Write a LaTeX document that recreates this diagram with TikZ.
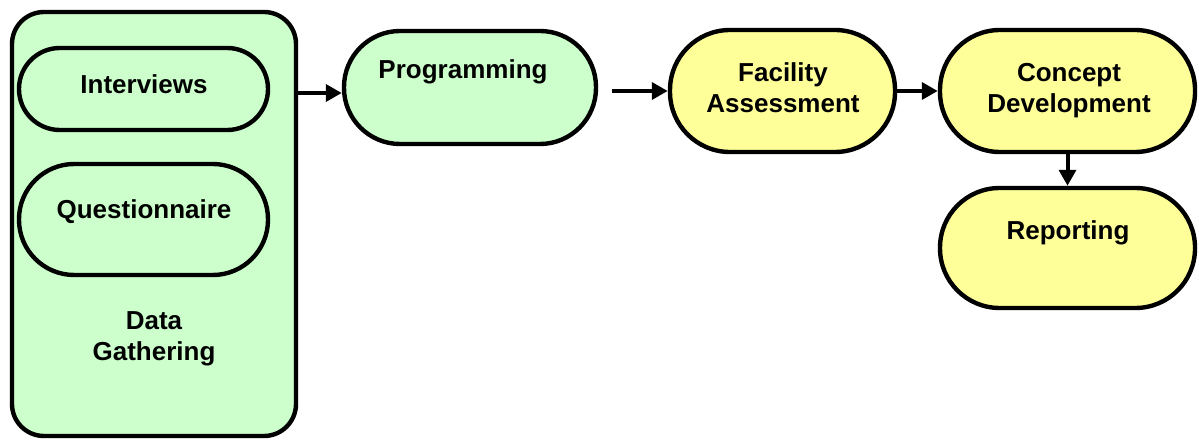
\documentclass[tikz,border=0pt]{standalone}
\usepackage{fontspec}
\setmainfont{Liberation Sans}
\usepackage{xcolor}
\usepackage{tikz}
\usetikzlibrary{shapes, arrows.meta, positioning}

\definecolor{gathergreen}{HTML}{CCFFCC}
\definecolor{stepyellow}{HTML}{FFFF99}

\begin{document}
\begin{tikzpicture}[
    % box style for the stages
    block/.style={
        rectangle,
        draw,
        line width=0.11cm,
        rounded corners=1.4cm,
        inner sep=0pt
    },
    label/.style={
        font=\fontsize{18.5}{22}\selectfont\bfseries,
        align=center
    },
    line/.style={draw, line width=0.1cm, -{Triangle[length=0.4cm,width=0.42cm]}}
]
    \useasboundingbox (0,0) rectangle (29.975,11.025);

    % Nodes
    \node [block, fill=gathergreen, rounded corners=0.8cm, minimum width=7.1cm, minimum height=10.6cm] (gather) at (3.85,5.425) {};
    \node [block, fill=gathergreen, rounded corners=1.02cm, minimum width=6.225cm, minimum height=2.05cm] (interv) at (3.5875,8.8) {};
    \node [block, fill=gathergreen, rounded corners=1.38cm, minimum width=6.225cm, minimum height=2.775cm] (quest) at (3.5875,5.5375) {};
    \node [block, fill=gathergreen, minimum width=6.3cm, minimum height=2.825cm] (prog) at (11.75,8.8375) {};
    \node [block, fill=stepyellow, rounded corners=1.5cm, minimum width=5.625cm, minimum height=3.05cm] (facil) at (19.5625,8.75) {};
    \node [block, fill=stepyellow, rounded corners=1.5cm, minimum width=6.375cm, minimum height=3.05cm] (concept) at (26.6875,8.75) {};
    \node [block, fill=stepyellow, rounded corners=1.49cm, minimum width=6.375cm, minimum height=3.0cm] (report) at (26.6875,4.825) {};

    % Texts
    \node [label] (intervtxt) at (3.6,8.925) {Interviews};
    \node [label] (questtxt) at (3.6,5.725) {Questionnaire};
    \node [label] (gathertxt) at (3.85,2.55) {Data\\Gathering};
    \node [label] (progtxt) at (11.575,9.225) {Programming};
    \node [label] (faciltxt) at (19.575,8.83) {Facility\\Assessment};
    \node [label] (concepttxt) at (26.725,8.77) {Concept\\Development};
    \node [label] (reporttxt) at (26.7,5.2) {Reporting};

    % Paths (Arrows)
    \path [line] (gather.east |- 0,8.7) -- (prog.west |- 0,8.7);
    \path [line, shorten <=0.35cm] (prog.east |- facil.west) -- (facil.west);
    \path [line] (facil.east) -- (concept.west);
    \path [line] (concept.south) -- (report.north);
\end{tikzpicture}
\end{document}
